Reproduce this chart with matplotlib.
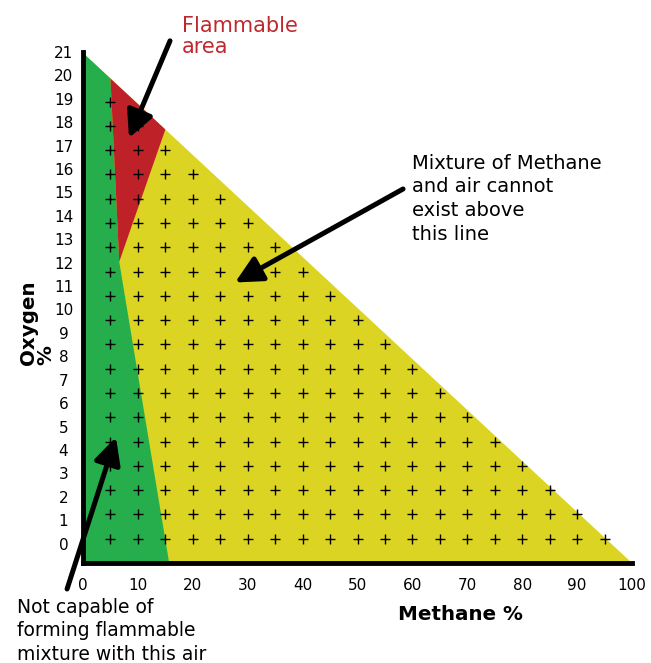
import matplotlib
matplotlib.use("Agg")
import matplotlib.pyplot as plt
from matplotlib.patches import Polygon

W, H = 651, 663

# ---- data ----
air_line_methane = [0, 100]          # limit line: methane/air mixtures
air_line_oxygen = [21, 0]
lel_methane = [5.0, 6.6]             # lower boundary of flammable area
lel_oxygen = [19.95, 12.4]
uel_methane = [15.0, 6.6]            # upper boundary of flammable area
uel_oxygen = [17.85, 12.4]
nonflam_methane = [6.6, 15.7]        # boundary of the non-flammable (green) zone below the nose
nonflam_oxygen = [12.4, 0.0]

grid_methane = [5, 10, 15, 20, 25, 30, 35, 40, 45, 50, 55, 60, 65, 70, 75, 80, 85, 90, 95]
grid_oxygen = [1, 2, 3, 4, 5, 6, 7, 8, 9, 10, 11, 12, 13, 14, 15, 16, 17, 18, 19]

x_ticks = [0, 10, 20, 30, 40, 50, 60, 70, 80, 90, 100]
y_tick_labels = [str(i) for i in range(22)]

# ---- style ----
GREEN = "#25AE4B"
RED = "#BF2129"
YELLOW = "#DBD423"
TEXT_RED = "#C0282F"

plt.rcParams['font.family'] = ['DejaVu Sans']

fig = plt.figure(figsize=(W / 100, H / 100), dpi=100)
ax = fig.add_axes([83 / W, 1 - 563 / H, (632 - 83) / W, (563 - 52) / H])
ax.set_xlim(0, 100)
ax.set_ylim(0, 21)

# yellow triangle (all mixtures possible)
tri = Polygon([(air_line_methane[0], 0), (air_line_methane[1], air_line_oxygen[1]),
               (air_line_methane[0], air_line_oxygen[0])],
              closed=True, facecolor=YELLOW, edgecolor='none', zorder=1)
ax.add_patch(tri)

# green region (not flammable)
green = Polygon([(0, 0), (0, air_line_oxygen[0]),
                 (lel_methane[0], lel_oxygen[0]),
                 (lel_methane[1], lel_oxygen[1]),
                 (nonflam_methane[1], nonflam_oxygen[1])],
                closed=True, facecolor=GREEN, edgecolor='none', zorder=2)
ax.add_patch(green)

# red region (flammable)
red = Polygon([(lel_methane[0], lel_oxygen[0]),
               (uel_methane[0], uel_oxygen[0]),
               (uel_methane[1], uel_oxygen[1])],
              closed=True, facecolor=RED, edgecolor='none', zorder=3)
ax.add_patch(red)

# plus grid inside the triangle
px, py = [], []
for o in grid_oxygen:
    for m in grid_methane:
        if m / air_line_methane[1] + o / air_line_oxygen[0] <= 1.0:
            px.append(m)
            py.append(o)
ax.plot(px, py, linestyle='none', marker='+', markersize=7.5, markeredgewidth=1.0,
        color='black', zorder=4)

# axes styling
for s in ['top', 'right']:
    ax.spines[s].set_visible(False)
for s in ['left', 'bottom']:
    ax.spines[s].set_linewidth(3.5)
    ax.spines[s].set_color('black')
    ax.spines[s].set_zorder(6)

ax.set_xticks(x_ticks, [str(v) for v in x_ticks])
ypos = [0.8 + i * (21.04 - 0.8) / 21 for i in range(len(y_tick_labels))]
ax.set_yticks(ypos, y_tick_labels)
ax.tick_params(axis='both', length=0, labelsize=11)
ax.tick_params(axis='x', pad=11)
ax.tick_params(axis='y', pad=14)
for lab in ax.get_yticklabels():
    lab.set_horizontalalignment('center')

# axis titles
fig.text(460 / W, 1 - 614 / H, "Methane %", fontsize=14.3, fontweight='bold',
         ha='center', va='center')
fig.text(37 / W, 1 - 365 / H, "Oxygen\n%", fontsize=14.3, fontweight='bold',
         rotation=90, ha='center', va='bottom', multialignment='left', linespacing=0.87)

# annotations (va='baseline' aligns the last line's baseline)
fig.text(181.7 / W, 1 - 53.3 / H, "Flammable\narea", fontsize=15, color=TEXT_RED,
         ha='left', va='baseline', linespacing=1.06)
fig.text(412 / W, 1 - 240 / H, "Mixture of Methane\nand air cannot\nexist above\nthis line",
         fontsize=14, color='black', ha='left', va='baseline', linespacing=1.32)
fig.text(16.7 / W, 1 - 660 / H, "Not capable of\nforming flammable\nmixture with this air",
         fontsize=13.5, color='black', ha='left', va='baseline', linespacing=1.31)

arrow_kw = dict(arrowstyle='-|>,head_length=0.9,head_width=0.45', lw=3.6, color='black',
                shrinkA=0, shrinkB=0, mutation_scale=18)
ax.annotate("", xy=(8.38, 17.5), xytext=(15.85, 21.5), arrowprops=arrow_kw,
            annotation_clip=False, zorder=7)
ax.annotate("", xy=(27.7, 11.55), xytext=(58.3, 15.4), arrowprops=arrow_kw,
            annotation_clip=False, zorder=7)
ax.annotate("", xy=(6.0, 5.18), xytext=(-2.9, -1.07), arrowprops=arrow_kw,
            annotation_clip=False, zorder=7)

fig.savefig("out.png", dpi=100)
